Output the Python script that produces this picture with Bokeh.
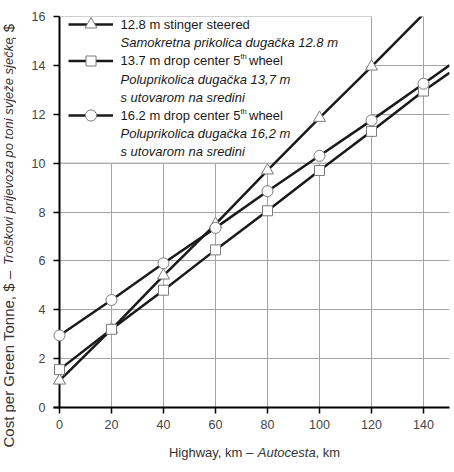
from bokeh.plotting import figure
from bokeh.layouts import row, column
from bokeh.models import Range1d, FixedTicker, Label, Legend, LegendItem, Span
from bokeh.embed import file_html
from bokeh.resources import INLINE

# ---------------- data ----------------
distance_km = [0, 20, 40, 60, 80, 100, 120, 140]
stinger_12_8 = [1.1, 3.2, 5.4, 7.5, 9.7, 11.85, 13.95, 16.1]
drop_13_7 = [1.55, 3.2, 4.8, 6.45, 8.05, 9.7, 11.3, 12.95]
drop_16_2 = [2.95, 4.4, 5.9, 7.35, 8.85, 10.3, 11.75, 13.25]
edge_km = 150
drop_13_7_edge = 13.7
drop_16_2_edge = 14.0

x_ticks = [0, 20, 40, 60, 80, 100, 120, 140]
y_ticks = [0, 2, 4, 6, 8, 10, 12, 14, 16]

legend_rows = [
    ("12.8 m stinger steered", ["Samokretna prikolica dugačka 12.8 m"]),
    ("13.7 m drop center 5", ["Poluprikolica dugačka 13,7 m", "s utovarom na sredini"]),
    ("16.2 m drop center 5", ["Poluprikolica dugačka 16,2 m", "s utovarom na sredini"]),
]
x_label_parts = ["Highway, km –", "Autocesta", ", km"]
y_label_parts = ["Cost per Green Tonne, $ –", "Troškovi prijevoza po toni svježe sječke", ", $"]

# ---------------- style ----------------
FONT = "Liberation Sans"
GRID = "#a3a3a3"
LINE = "#1a1a1a"
MARK_LINE = "#7a7a7a"
Y_MAX = 16
X_MAX = 150
X_MIN = -6 / 2.6

LEFT_W = 16
MAIN_W = 454 - LEFT_W
MAIN_H = 440
BOT_H = 472 - MAIN_H
BORDER_L = 37
BORDER_R = 5

p = figure(width=MAIN_W, height=MAIN_H, x_range=Range1d(X_MIN, X_MAX), y_range=Range1d(0, Y_MAX),
           output_backend="svg", toolbar_location=None, title=None,
           min_border_left=BORDER_L, min_border_right=BORDER_R, min_border_top=16, min_border_bottom=33,
           background_fill_color="white", border_fill_color="white", outline_line_color=None)

# grid
p.xgrid.ticker = FixedTicker(ticks=x_ticks + [X_MAX])
p.ygrid.ticker = FixedTicker(ticks=y_ticks)
p.xgrid.grid_line_color = GRID
p.ygrid.grid_line_color = GRID

# axes
for ax in (p.xaxis[0], p.yaxis[0]):
    ax.major_tick_line_color = "black"
    ax.major_tick_line_width = 1.5
    ax.minor_tick_line_color = None
    ax.major_label_text_font = FONT
    ax.major_label_text_font_size = "12.5px"
    ax.major_label_text_color = "#444444"
p.xaxis.ticker = FixedTicker(ticks=x_ticks)
p.yaxis.ticker = FixedTicker(ticks=y_ticks)
p.xaxis.axis_line_color = "black"
p.xaxis.axis_line_width = 2
p.xaxis.major_tick_in = 0
p.xaxis.major_tick_out = 6
p.xaxis.major_label_standoff = 6
# y axis: ticks reach from the frame edge to x = 0, where the axis line is drawn
p.yaxis.axis_line_color = None
p.yaxis.major_tick_in = 6
p.yaxis.major_tick_out = 0
p.yaxis.major_label_standoff = 8
p.add_layout(Span(location=0, dimension="height", line_color="black", line_width=2))

# white legend box masking the grid
p.quad(left=0, right=120, bottom=10, top=Y_MAX, fill_color="white", line_color=GRID, line_width=1)

# series
tri_keep = [i for i, v in enumerate(stinger_12_8) if v <= Y_MAX]
l1 = p.line(distance_km, stinger_12_8, line_color=LINE, line_width=2.5)
l2 = p.line(distance_km + [edge_km], drop_13_7 + [drop_13_7_edge], line_color=LINE, line_width=2.5)
l3 = p.line(distance_km + [edge_km], drop_16_2 + [drop_16_2_edge], line_color=LINE, line_width=2.5)
s1 = p.scatter([distance_km[i] for i in tri_keep], [stinger_12_8[i] for i in tri_keep],
               marker="triangle", size=12, fill_color="white", line_color=MARK_LINE,
               line_width=1, level="overlay")
s2 = p.scatter(distance_km, drop_13_7, marker="square", size=10, fill_color="white",
               line_color=MARK_LINE, line_width=1, level="overlay")
s3 = p.scatter(distance_km, drop_16_2, marker="circle", size=11, fill_color="white",
               line_color=MARK_LINE, line_width=1, level="overlay")

# legend samples (one legend per entry so that rows follow the text lines)
ROW0 = 8.0          # first text row below the frame top, px
ROW_STEP = 18.2
FRAME_H = 391
glyph_rows = [0, 2, 5]
glyph_heights = [30, 25, 27.5]   # legend marker size = 0.4 * glyph box
for (rl, rm), r, gh in zip([(l1, s1), (l2, s2), (l3, s3)], glyph_rows, glyph_heights):
    center_from_top = ROW0 + r * ROW_STEP
    vy = FRAME_H - (center_from_top + gh / 2)
    lg = Legend(items=[LegendItem(label=" ", renderers=[rl, rm])],
                location=(15, vy), orientation="vertical", padding=0, margin=0, spacing=0,
                glyph_width=45, glyph_height=int(round(gh)), label_width=1, label_height=10,
                label_standoff=0, label_text_font_size="1px",
                background_fill_alpha=0, border_line_color=None)
    p.add_layout(lg)

# legend texts
TX = 61
def add_text(txt, dx, r, style="normal", size="13px", dy=0.0):
    p.add_layout(Label(x=0, y=Y_MAX, x_offset=dx, y_offset=-(ROW0 + r * ROW_STEP) + dy,
                       text=txt, text_font=FONT, text_font_size=size, text_font_style=style,
                       text_color="#1a1a1a", text_align="left", text_baseline="middle"))

r = 0
for i, (main, subs) in enumerate(legend_rows):
    add_text(main, TX, r)
    if i > 0:
        add_text("th", TX + 120, r, size="7.5px", dy=4)
        add_text("wheel", 189.5, r)
    r += 1
    for s in subs:
        add_text(s, TX, r, style="italic")
        r += 1

# ---------------- x axis title (mixed styles), frame aligned with the main plot ----------------
pb = figure(width=MAIN_W, height=BOT_H, x_range=Range1d(X_MIN, X_MAX), y_range=Range1d(0, BOT_H),
            output_backend="svg", toolbar_location=None, title=None,
            min_border_left=BORDER_L, min_border_right=BORDER_R, min_border_top=0, min_border_bottom=0,
            x_axis_type=None, y_axis_type=None, outline_line_color=None,
            background_fill_color="white", border_fill_color="white")
pb.grid.visible = False
x_offsets = [109.4, 198.3, 256.1]      # px right of x = 0
x_styles = ["normal", "italic", "normal"]
for txt, dx, st in zip(x_label_parts, x_offsets, x_styles):
    pb.add_layout(Label(x=0, y=BOT_H - 12, x_offset=dx, text=txt, text_font=FONT,
                        text_font_size="13px", text_font_style=st, text_color="#333333",
                        text_align="left", text_baseline="middle"))

# ---------------- y axis title (mixed styles, rotated) ----------------
pl = figure(width=LEFT_W, height=472, x_range=Range1d(0, LEFT_W), y_range=Range1d(0, 472),
            output_backend="svg", toolbar_location=None, title=None, min_border=0,
            x_axis_type=None, y_axis_type=None, outline_line_color=None,
            background_fill_color="white", border_fill_color="white")
pl.grid.visible = False
y_starts = [25.0, 207.6, 432.0]
y_styles = ["normal", "italic", "normal"]
y_sizes = ["15px", "13px", "15px"]
for txt, ys, st, sz in zip(y_label_parts, y_starts, y_styles, y_sizes):
    pl.add_layout(Label(x=8, y=ys, text=txt, text_font=FONT, text_font_size=sz,
                        text_font_style=st, text_color="#333333", angle=90, angle_units="deg",
                        text_align="left", text_baseline="middle"))

layout = row(pl, column(p, pb, spacing=0), spacing=0)
open("out.html", "w").write(file_html(layout, INLINE))
